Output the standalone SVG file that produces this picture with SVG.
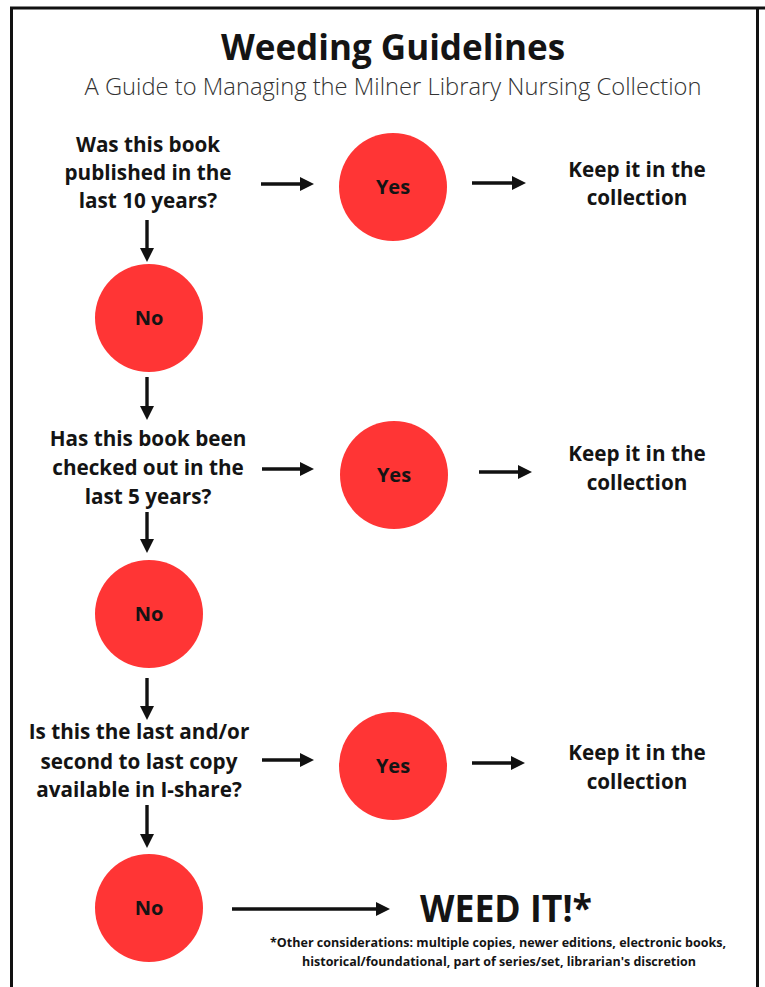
<svg xmlns="http://www.w3.org/2000/svg" width="765" height="987" viewBox="0 0 765 987">
<defs>
<marker id="ah" markerUnits="userSpaceOnUse" markerWidth="15" markerHeight="14" refX="2" refY="7" orient="auto">
<path d="M0,0 L14,7 L0,14 z" fill="#111"/>
</marker>
<style>
.bd{fill:none;stroke:#111;stroke-width:3}
.c{fill:#ff3535}
.t{font-family:"Open Sans","Liberation Sans",sans-serif;font-weight:700;fill:#141414;text-anchor:middle}
.q{font-size:20.7px}
.lb{font-size:20px}
.ar{stroke:#111;stroke-width:3.4;fill:none;marker-end:url(#ah)}
</style>
</defs>
<rect width="765" height="987" fill="#fff"/>
<path class="bd" d="M11.5,987 V8 H765"/>
<path class="bd" d="M757.5,8 V987"/>
<g id="title">
<text class="t" x="393" y="60" font-size="35">Weeding Guidelines</text>
<text x="393" y="95" font-family="'Open Sans','Liberation Sans',sans-serif" font-weight="300" font-size="23.5" fill="#333" text-anchor="middle" textLength="617" lengthAdjust="spacingAndGlyphs">A Guide to Managing the Milner Library Nursing Collection</text>
</g>
<g id="q1"><text class="t q" x="148"><tspan x="148" y="152">Was this book</tspan><tspan x="148" y="180">published in the</tspan><tspan x="148" y="208">last 10 years?</tspan></text></g>
<g id="yes1"><circle class="c" cx="393" cy="187" r="54"/><text class="t lb" x="393" y="194">Yes</text></g>
<g id="keep1"><text class="t q"><tspan x="637" y="177">Keep it in the</tspan><tspan x="637" y="205">collection</tspan></text></g>
<g id="no1"><circle class="c" cx="149" cy="318" r="54"/><text class="t lb" x="149" y="325">No</text></g>
<g id="q2"><text class="t q"><tspan x="148" y="446">Has this book been</tspan><tspan x="148" y="475">checked out in the</tspan><tspan x="148" y="504">last 5 years?</tspan></text></g>
<g id="yes2"><circle class="c" cx="394" cy="475" r="54"/><text class="t lb" x="394" y="482">Yes</text></g>
<g id="keep2"><text class="t q"><tspan x="637" y="461">Keep it in the</tspan><tspan x="637" y="490">collection</tspan></text></g>
<g id="no2"><circle class="c" cx="149" cy="614" r="54"/><text class="t lb" x="149" y="621">No</text></g>
<g id="q3"><text class="t q"><tspan x="139" y="739">Is this the last and/or</tspan><tspan x="139" y="769">second to last copy</tspan><tspan x="139" y="797">available in I-share?</tspan></text></g>
<g id="yes3"><circle class="c" cx="393" cy="766" r="54"/><text class="t lb" x="393" y="773">Yes</text></g>
<g id="keep3"><text class="t q"><tspan x="637" y="760">Keep it in the</tspan><tspan x="637" y="789">collection</tspan></text></g>
<g id="no3"><circle class="c" cx="149" cy="908" r="54"/><text class="t lb" x="149" y="915">No</text></g>
<g id="weed">
<text class="t" x="506" y="922" font-size="38" textLength="172" lengthAdjust="spacingAndGlyphs">WEED IT!*</text>
<text class="t" x="498" y="947" font-size="12.5" textLength="456" lengthAdjust="spacingAndGlyphs">*Other considerations: multiple copies, newer editions, electronic books,</text>
<text class="t" x="499" y="966" font-size="12.5" textLength="394" lengthAdjust="spacingAndGlyphs">historical/foundational, part of series/set, librarian's discretion</text>
</g>
<g id="connectors">
<line class="ar" x1="261" y1="184" x2="302" y2="184"/>
<line class="ar" x1="472" y1="183" x2="514" y2="183"/>
<line class="ar" x1="147" y1="220" x2="147" y2="250"/>
<line class="ar" x1="147" y1="377" x2="147" y2="408"/>
<line class="ar" x1="262" y1="469" x2="302" y2="469"/>
<line class="ar" x1="479" y1="472" x2="520" y2="472"/>
<line class="ar" x1="147" y1="512" x2="147" y2="541"/>
<line class="ar" x1="147" y1="678" x2="147" y2="708"/>
<line class="ar" x1="262" y1="760" x2="302" y2="760"/>
<line class="ar" x1="472" y1="763" x2="513" y2="763"/>
<line class="ar" x1="147" y1="805" x2="147" y2="836"/>
<line class="ar" x1="232" y1="909" x2="378" y2="909"/>
</g>
</svg>
